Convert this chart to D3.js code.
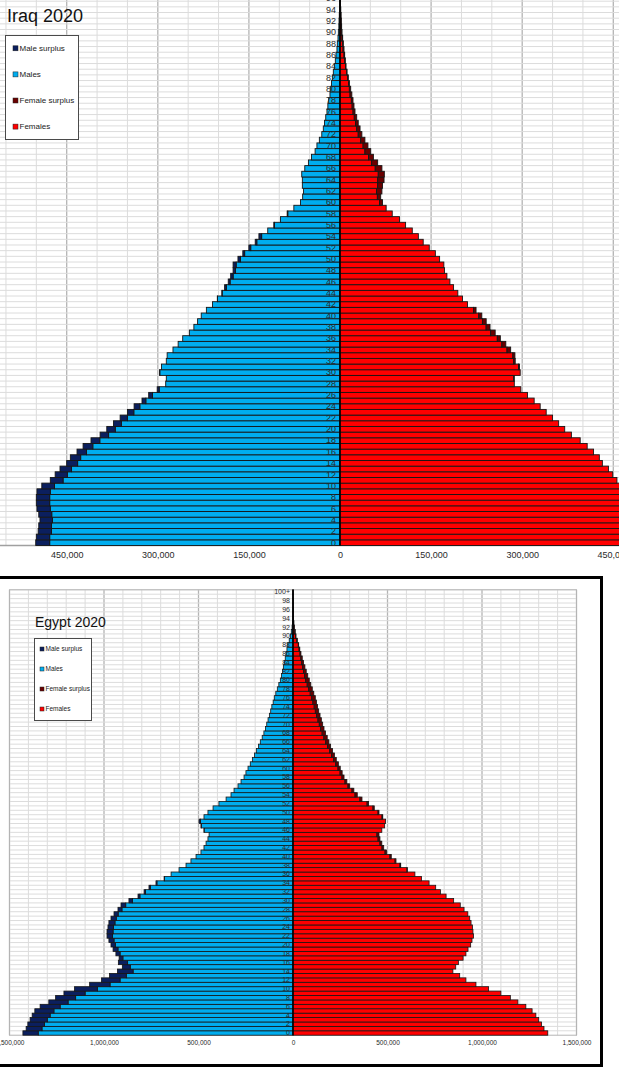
<!DOCTYPE html>
<html>
<head>
<meta charset="utf-8">
<script src="https://cdn.jsdelivr.net/npm/d3@7"></script>
<style>
  body { margin: 0; background: #fff; }
  svg { display: block; font-family: "Liberation Sans", Arial, sans-serif; }
</style>
</head>
<body>
<svg width="619" height="1073"></svg>
<script>
// ages 0..100, values in thousands
const ages = d3.range(0, 101);

const iraqMales = [501, 500, 497, 496, 494, 496, 499, 500, 500, 499,
    491, 477, 469, 461, 450, 444, 433, 423, 410, 395,
    384, 373, 362, 350, 339, 326, 315, 301, 287, 286,
    297, 294, 286, 284.6, 275, 266.5, 259, 248, 240.6, 234.5,
    228.5, 220, 210, 202, 194.5, 190, 184, 180, 176, 176,
    168, 160, 150, 139.6, 133.5, 119, 109, 98, 87, 76,
    65, 61.5, 60, 62, 62, 63, 58, 52, 47, 41,
    38, 34, 30, 27.5, 25.5, 23.5, 21.5, 20, 18.7, 16.5,
    15.4, 14, 12.6, 11, 9.3, 7.7, 6.6, 5, 4.4, 3.3,
    2.7, 1.9, 1.6, 1.2, 0.9, 0.6, 0.4, 0.3, 0.2, 0.1, 0.1];

const iraqFemales = [478, 478, 475, 475, 473.5, 474.6, 477, 478, 478, 477,
    470, 456, 449, 442, 432, 427, 417.5, 407, 395.5, 381,
    370, 360, 350, 339.5, 329.6, 319.7, 308.7, 297.7, 287, 287,
    296.7, 295.6, 288.5, 288, 281, 273, 264, 255.5, 247, 240.7,
    233.5, 224, 210, 201.7, 194, 187, 181, 176, 172, 171,
    164, 157, 147, 137, 129, 119, 108, 98, 86, 76,
    70, 67, 69, 70, 72.5, 73, 69, 62, 55, 50.6,
    46, 41, 36, 33, 30, 27.5, 24.7, 23, 21.4, 19.5,
    17.6, 15.5, 13.7, 11.6, 9.9, 8.8, 7.7, 6.6, 5.5, 4.4,
    3.3, 2.7, 2.2, 1.8, 1.3, 0.9, 0.6, 0.4, 0.3, 0.2, 0.2];

const egyptMales = [1429, 1412, 1403, 1391, 1380, 1366, 1338, 1292, 1256, 1212,
    1156, 1076, 1013, 971, 929, 903, 924, 920, 937, 952,
    963, 974, 984, 984, 979, 974, 963, 947, 926, 910,
    868, 820, 788, 762, 725, 682, 645, 603, 566, 540,
    513, 487, 471, 460, 450, 444, 471, 487, 497, 471,
    450, 423, 392, 354, 328, 312, 291, 275, 259, 249,
    238, 226, 215, 204, 194, 183, 173, 163, 154, 146,
    139, 132, 125, 118, 112, 105, 99, 91, 83, 75,
    67, 61, 56, 51, 46, 41, 37, 32, 28, 20,
    14, 9, 5, 3, 2, 1.2, 0.8, 0.5, 0.3, 0.2, 0.2];

const egyptFemales = [1348, 1328, 1315, 1300, 1285, 1265, 1232, 1190, 1150, 1100,
    1035, 968, 915, 882, 846, 861, 875, 900, 915, 926,
    940, 947, 955, 952, 950, 942, 935, 925, 905, 885,
    850, 810, 780, 755, 720, 680, 645, 605, 570, 545,
    520, 495, 480, 470, 460, 455, 470, 485, 490, 475,
    455, 430, 400, 365, 340, 322, 300, 285, 270, 260,
    250, 240, 229, 219, 209, 199, 190, 181, 172, 164,
    157, 150, 143, 136, 130, 124, 118, 110, 102, 94,
    86, 78, 70, 63, 56, 49, 42, 36, 30, 23,
    16, 12, 8, 5, 3, 2, 1.2, 0.8, 0.5, 0.3, 0.4];

const iraqTicks = [-450000, -300000, -150000, 0, 150000, 300000, 450000];
const egyptTicks = [-1500000, -1000000, -500000, 0, 500000, 1000000, 1500000];
const legendLabels = ["Male surplus", "Males", "Female surplus", "Females"];

const colors = {
    maleSurplus: "#0b1f5e",
    males: "#00adef",
    femaleSurplus: "#6a0000",
    females: "#ff0000"
};
const legendColors = [colors.maleSurplus, colors.males, colors.femaleSurplus, colors.females];

const svg = d3.select("svg");

function drawPyramid(cfg) {
    const g = svg.append("g");
    const x = d3.scaleLinear().domain(cfg.xDomain).range(cfg.xRange);
    const y = d3.scaleBand()
        .domain(ages.slice().reverse())
        .range([cfg.top, cfg.bottom])
        .padding(0);
    const cx = x(0);

    // vertical gridlines
    const gridVals = d3.range(-cfg.gridMax, cfg.gridMax + 1, cfg.minorStep);
    g.append("g")
        .selectAll("line")
        .data(gridVals)
        .enter()
        .append("line")
        .attr("x1", d => x(d))
        .attr("x2", d => x(d))
        .attr("y1", Math.max(cfg.top, 0))
        .attr("y2", cfg.bottom)
        .attr("stroke", d => d % cfg.majorStep === 0 ? "#b4b4b4" : "#dcdcdc")
        .attr("stroke-width", d => d % cfg.majorStep === 0 ? 1.3 : 1);

    // horizontal gridlines at band edges
    g.append("g")
        .selectAll("line")
        .data(ages)
        .enter()
        .append("line")
        .attr("x1", cfg.plotLeft)
        .attr("x2", cfg.plotRight)
        .attr("y1", d => y(d))
        .attr("y2", d => y(d))
        .attr("stroke", "#dcdcdc")
        .attr("stroke-width", 1);

    // plot frame / bottom line
    if (cfg.frame) {
        g.append("rect")
            .attr("x", cfg.plotLeft)
            .attr("y", cfg.top)
            .attr("width", cfg.plotRight - cfg.plotLeft)
            .attr("height", cfg.bottom - cfg.top)
            .attr("fill", "none")
            .attr("stroke", "#b4b4b4")
            .attr("stroke-width", 1);
    } else {
        g.append("line")
            .attr("x1", cfg.plotLeft).attr("x2", cfg.plotRight)
            .attr("y1", cfg.bottom).attr("y2", cfg.bottom)
            .attr("stroke", "#a0a0a0")
            .attr("stroke-width", 1.5);
    }

    const rows = ages.map(a => {
        const m = cfg.males[a] * 1000, f = cfg.females[a] * 1000;
        return { age: a, m: m, f: f, base: Math.min(m, f) };
    });

    const segs = [];
    rows.forEach(r => {
        segs.push({ age: r.age, v0: 0, v1: -r.base, c: colors.males });
        if (r.m > r.f) segs.push({ age: r.age, v0: -r.base, v1: -r.m, c: colors.maleSurplus });
        segs.push({ age: r.age, v0: 0, v1: r.base, c: colors.females });
        if (r.f > r.m) segs.push({ age: r.age, v0: r.base, v1: r.f, c: colors.femaleSurplus });
    });

    g.append("g")
        .selectAll("rect")
        .data(segs)
        .enter()
        .append("rect")
        .attr("x", d => Math.min(x(d.v0), x(d.v1)))
        .attr("width", d => Math.abs(x(d.v1) - x(d.v0)))
        .attr("y", d => y(d.age))
        .attr("height", y.bandwidth())
        .attr("fill", d => d.c)
        .attr("stroke", "#161616")
        .attr("stroke-width", cfg.barStroke);

    // centre line
    g.append("line")
        .attr("x1", cx).attr("x2", cx)
        .attr("y1", Math.max(cfg.top, 0)).attr("y2", cfg.bottom)
        .attr("stroke", "#000")
        .attr("stroke-width", 1.5);

    // age labels (only those that land on the page)
    const ageAxis = g.append("g")
        .attr("transform", `translate(${cx},0)`)
        .call(d3.axisLeft(y)
            .tickValues(ages.filter(a => a % 2 === 0 && y(a) + y.bandwidth() / 2 > -3))
            .tickSize(0)
            .tickPadding(cfg.agePad)
            .tickFormat(a => a === 100 && cfg.plusTop ? "100+" : a));
    ageAxis.select(".domain").remove();
    ageAxis.selectAll("text")
        .attr("font-size", cfg.ageFont)
        .attr("font-family", "Liberation Sans, Arial, sans-serif")
        .attr("fill", "#2a2a2a");

    // value labels
    const xAxis = g.append("g")
        .attr("transform", `translate(0,${cfg.bottom})`)
        .call(d3.axisBottom(x)
            .tickValues(cfg.ticks)
            .tickSize(0)
            .tickPadding(cfg.xPad)
            .tickFormat(d => d3.format(",")(Math.abs(d))));
    xAxis.select(".domain").remove();
    xAxis.selectAll("text")
        .attr("font-size", cfg.xFont)
        .attr("font-family", "Liberation Sans, Arial, sans-serif")
        .attr("fill", "#2a2a2a");

    // title
    svg.append("text")
        .attr("x", cfg.title.x)
        .attr("y", cfg.title.y)
        .attr("font-size", cfg.title.size)
        .attr("fill", "#111")
        .text(cfg.title.text);

    // legend
    const L = cfg.legend;
    const lg = svg.append("g");
    lg.append("rect")
        .attr("x", L.x).attr("y", L.y)
        .attr("width", L.w).attr("height", L.h)
        .attr("fill", "#fff")
        .attr("stroke", "#4a4a4a")
        .attr("stroke-width", 1);
    legendLabels.forEach((lab, i) => {
        const cy = L.y0 + i * L.step;
        lg.append("rect")
            .attr("x", L.mx).attr("y", cy - L.ms / 2)
            .attr("width", L.ms).attr("height", L.ms)
            .attr("fill", legendColors[i])
            .attr("stroke", "#222")
            .attr("stroke-width", 0.5);
        lg.append("text")
            .attr("x", L.tx).attr("y", cy)
            .attr("dy", "0.35em")
            .attr("font-size", L.font)
            .attr("fill", "#222")
            .text(lab);
    });
}

// Iraq
drawPyramid({
    males: iraqMales, females: iraqFemales,
    xDomain: [-150000, 150000], xRange: [248.9, 431.1],
    top: 545.5 - 101 * 5.67, bottom: 545.5,
    plotLeft: -10, plotRight: 630,
    gridMax: 600000, minorStep: 50000, majorStep: 150000,
    frame: false, barStroke: 0.9,
    ticks: iraqTicks, agePad: 4, ageFont: 9, xPad: 6, xFont: 9,
    plusTop: false,
    title: { x: 7, y: 22, size: 18, text: "Iraq 2020" },
    legend: { x: 5.5, y: 35.5, w: 73, h: 104, y0: 48.3, step: 26.1,
        mx: 13, ms: 5, tx: 19.5, font: 8 }
});

// Egypt outer frame
svg.append("path")
    .attr("d", "M0,577.5 H601.5 V1065.5 H0")
    .attr("fill", "none")
    .attr("stroke", "#000")
    .attr("stroke-width", 3);

drawPyramid({
    males: egyptMales, females: egyptFemales,
    xDomain: [-1500000, 1500000], xRange: [9.5, 576.5],
    top: 589.8, bottom: 1035.2,
    plotLeft: 9.5, plotRight: 576.5,
    gridMax: 1500000, minorStep: 100000, majorStep: 500000,
    frame: true, barStroke: 0.8,
    ticks: egyptTicks, agePad: 3, ageFont: 7, xPad: 5.5, xFont: 6.5,
    plusTop: true,
    title: { x: 35, y: 627, size: 14, text: "Egypt 2020" },
    legend: { x: 34.5, y: 638.5, w: 57, h: 82, y0: 649, step: 20,
        mx: 40, ms: 4, tx: 45.5, font: 6.5 }
});
</script>
</body>
</html>
